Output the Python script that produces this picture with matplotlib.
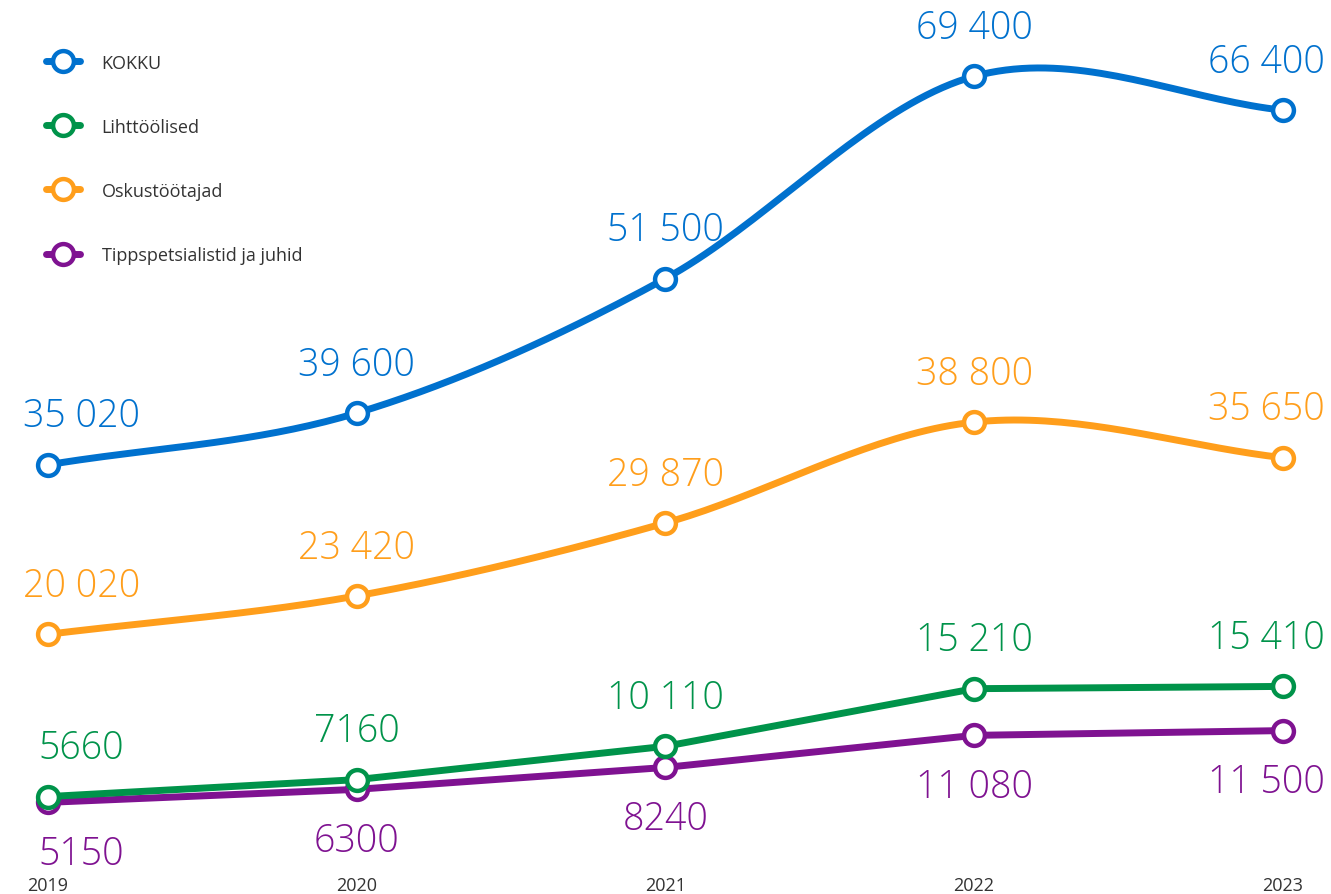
import numpy as np
import matplotlib.pyplot as plt

# andmed
years = [2019, 2020, 2021, 2022, 2023]
kokku = [35020, 39600, 51500, 69400, 66400]
lihttoolised = [5660, 7160, 10110, 15210, 15410]
oskustootajad = [20020, 23420, 29870, 38800, 35650]
tippspets = [5150, 6300, 8240, 11080, 11500]

labels = ['KOKKU', 'Lihttöölised', 'Oskustöötajad', 'Tippspetsialistid ja juhid']
colors = ['#0071CE', '#00934A', '#FF9E1B', '#7F1291']

plt.rcParams['font.family'] = ['Open Sans', 'DejaVu Sans']


def smooth(x, y, n=40):
    # Catmull-Rom kõver punktide vahel
    x = np.asarray(x, float)
    y = np.asarray(y, float)
    m = np.zeros_like(y)
    m[1:-1] = (y[2:] - y[:-2]) / 2
    m[0] = y[1] - y[0]
    m[-1] = y[-1] - y[-2]
    xs, ys = [], []
    for i in range(len(x) - 1):
        t = np.linspace(0, 1, n)
        h00 = 2 * t**3 - 3 * t**2 + 1
        h10 = t**3 - 2 * t**2 + t
        h01 = -2 * t**3 + 3 * t**2
        h11 = t**3 - t**2
        xs.append(x[i] + (x[i + 1] - x[i]) * t)
        ys.append(h00 * y[i] + h10 * m[i] + h01 * y[i + 1] + h11 * m[i + 1])
    return np.concatenate(xs), np.concatenate(ys)


def fmt(v):
    return f'{v:,}'.replace(',', ' ') if v >= 10000 else str(v)


fig = plt.figure(figsize=(13.31, 8.95), dpi=100)
ax = fig.add_axes([0, 0.026, 1, 0.974])

series = [kokku, lihttoolised, oskustootajad, tippspets]
curved = [True, False, True, False]
below = [False, False, False, True]

# joonistamise järjekord: lilla enne rohelist, et roheline oleks peal
for idx in [3, 1, 2, 0]:
    vals = series[idx]
    c = colors[idx]
    if curved[idx]:
        sx, sy = smooth(years, vals)
    else:
        sx, sy = years, vals
    ax.plot(sx, sy, color=c, lw=5, solid_capstyle='round', zorder=2)
    ax.plot(years, vals, 'o', ms=15, mfc='white', mec=c, mew=3.2, zorder=3)
    for i, (x, v) in enumerate(zip(years, vals)):
        dy = -37 if below[idx] else 35
        if i == 0:
            dx = 24
        elif i == len(years) - 1:
            dx = -12
        else:
            dx = 0
        ax.annotate(fmt(v), (x, v), xytext=(dx, dy), textcoords='offset points',
                    ha='center', va='center', fontsize=27, color=c, fontweight='light')

# legend
handles = []
for lab, c in zip(labels, colors):
    h, = ax.plot([], [], color=c, lw=5, marker='o', ms=15, mfc='white', mec=c, mew=3.2,
                 solid_capstyle='round')
    handles.append(h)
fig.legend(handles, labels, loc='upper left', bbox_to_anchor=(0.022, 0.957),
           frameon=False, fontsize=13, labelcolor='#333333', handlelength=1.9,
           labelspacing=2.55, handletextpad=1.2)

ax.set_xlim(2018.845, 2023.156)
ax.set_ylim(-900, 76241)
ax.set_xticks(years)
ax.set_xticklabels([str(y) for y in years], fontsize=13, color='#333333')
ax.tick_params(axis='x', length=0, pad=4)
ax.set_yticks([])
for s in ax.spines.values():
    s.set_visible(False)

fig.savefig('out.png', dpi=100)
